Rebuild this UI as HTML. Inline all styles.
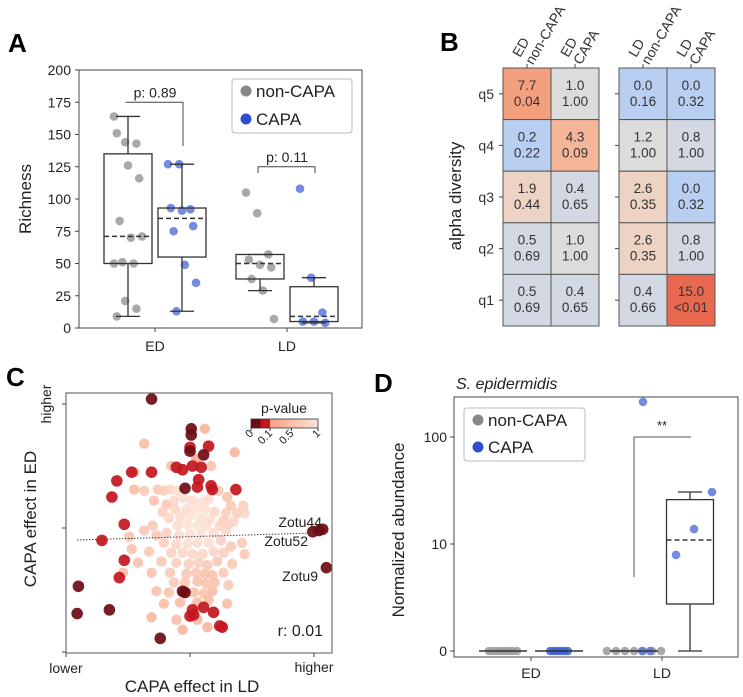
<!DOCTYPE html>
<html><head><meta charset="utf-8"><style>
html,body{margin:0;padding:0;background:#fff}
svg{display:block;font-family:"Liberation Sans",sans-serif}
</style></head><body>
<svg id="fig" width="743" height="697" viewBox="0 0 743 697" xmlns="http://www.w3.org/2000/svg">
<g id="pa"></g>
<g id="pb"></g>
<g id="pc"></g>
<g id="pd"></g>
</svg>
<script>
// ---------- Panel A data ----------
const aGroups = ["ED","LD"];
const aTicks = [0,25,50,75,100,125,150,175,200];
const aBoxNon = [[9,50,71,135,164],[29,38,50,57,57]];
const aBoxCapa = [[13,55,85,93,127],[4,5,9,32,39]];
const aPtsNon = [[164,144,143,151,126,116,83,70,71,51,50,50,21,15,9],[105,89,57,53,49,47,38,29,7]];
const aPtsCapa = [[127,127,92,93,91,79,75,49,35,13],[108,39,12,5,5,4]];
const aPvals = ["p: 0.89","p: 0.11"];
const aBracketY = [175,125];
// ---------- Panel B data ----------
const bRows = ["q5","q4","q3","q2","q1"];
const bCols = [["ED","non-CAPA"],["ED","CAPA"],["LD","non-CAPA"],["LD","CAPA"]];
const bOdds = [["7.7","1.0","0.0","0.0"],["0.2","4.3","1.2","0.8"],["1.9","0.4","2.6","0.0"],["0.5","1.0","2.6","0.8"],["0.5","0.4","0.4","15.0"]];
const bP = [["0.04","1.00","0.16","0.32"],["0.22","0.09","1.00","1.00"],["0.44","0.65","0.35","0.32"],["0.69","1.00","0.35","1.00"],["0.69","0.65","0.66","<0.01"]];
// ---------- Panel C data ----------
const cDark = [[-0.31,1.04,0.01],[0.01,0.80,0.01],[0.01,0.75,0.02],[0.0,0.65,0.06],[0.0,0.62,0.03],[0.15,0.66,0.07],[0.11,0.59,0.01],
[-0.11,0.49,0.06],[-0.06,0.47,0.07],[0.02,0.50,0.06],[0.09,0.49,0.07],[-0.31,0.45,0.06],[-0.47,0.45,0.07],[-0.59,0.38,0.07],
[0.07,0.39,0.06],[0.17,0.34,0.07],[-0.04,0.32,0.04],[0.06,0.33,0.07],[0.18,0.31,0.07],[0.37,0.31,0.07],[-0.63,0.25,0.07],
[-0.53,0.03,0.07],[-0.71,-0.10,0.07],[-0.53,-0.26,0.07],[-0.57,-0.40,0.07],[-0.90,-0.47,0.02],[-0.91,-0.69,0.02],[-0.65,-0.66,0.02],
[-0.06,-0.51,0.03],[0.0,-0.71,0.06],[0.11,-0.64,0.07],[0.19,-0.68,0.07],[0.02,-0.66,0.06],[0.24,-0.79,0.07],[0.26,-0.80,0.07],
[-0.24,-0.89,0.02],[0.99,-0.03,0.01],[1.04,-0.02,0.02],[1.07,-0.01,0.01],[1.10,-0.32,0.02],[-0.04,-0.52,0.04],[0.03,-0.70,0.07]];
const cLight = [[0.12,0.80,0.3],[-0.37,0.68,0.4],[0.36,0.61,0.3],[-0.15,0.50,0.4],[-0.45,0.45,0.3],[0.05,0.56,0.2],[0.17,0.50,0.5],
[-0.45,0.31,0.4],[-0.37,0.30,0.6],[-0.26,0.31,0.6],[-0.21,0.30,0.7],[-0.16,0.31,0.8],[-0.10,0.30,0.9],[0.30,0.25,0.5],[0.23,0.30,0.6],
[-0.29,0.22,0.5],[-0.19,0.19,0.6],[-0.13,0.22,0.8],[-0.05,0.24,0.9],[0.02,0.22,0.9],[0.10,0.21,0.95],[0.15,0.23,0.9],[0.33,0.18,0.6],[0.43,0.18,0.7],
[-0.22,0.13,0.7],[-0.12,0.15,0.8],[-0.03,0.15,0.9],[0.05,0.16,0.95],[0.12,0.15,0.95],[0.20,0.13,0.8],[0.29,0.12,0.7],[0.38,0.12,0.7],[0.44,0.12,0.8],
[-0.17,0.08,0.8],[-0.08,0.09,0.9],[0.0,0.10,0.95],[0.08,0.08,0.98],[0.16,0.07,0.9],[0.27,0.06,0.7],[0.35,0.05,0.8],
[-0.30,0.02,0.6],[-0.10,0.02,0.9],[-0.02,0.03,0.95],[0.06,0.02,0.98],[0.13,0.02,0.95],[0.24,0.02,0.8],[0.31,0.03,0.8],
[-0.49,-0.07,0.5],[-0.37,-0.02,0.6],[-0.27,-0.06,0.6],[-0.19,-0.04,0.7],[-0.09,-0.06,0.9],[0.0,-0.05,0.95],[0.09,-0.05,0.98],[0.19,-0.04,0.9],[0.29,-0.02,0.8],
[-0.47,-0.17,0.5],[-0.21,-0.12,0.7],[-0.11,-0.13,0.8],[-0.02,-0.13,0.9],[0.06,-0.12,0.9],[0.15,-0.12,0.9],[0.25,-0.10,0.7],[0.33,-0.15,0.6],[0.42,-0.12,0.6],
[-0.33,-0.19,0.6],[-0.15,-0.20,0.7],[-0.06,-0.20,0.8],[0.02,-0.21,0.8],[0.10,-0.21,0.8],[0.19,-0.19,0.8],[0.27,-0.20,0.7],[0.44,-0.21,0.6],
[-0.42,-0.28,0.5],[-0.23,-0.27,0.6],[-0.11,-0.28,0.7],[-0.01,-0.29,0.7],[0.07,-0.28,0.7],[0.14,-0.30,0.6],[0.22,-0.27,0.6],[0.34,-0.29,0.6],
[-0.54,-0.36,0.4],[-0.31,-0.36,0.5],[-0.16,-0.36,0.6],[-0.03,-0.37,0.6],[0.05,-0.36,0.6],[0.12,-0.37,0.5],[0.18,-0.38,0.5],[0.27,-0.36,0.6],
[-0.13,-0.44,0.6],[-0.04,-0.44,0.6],[0.06,-0.43,0.5],[0.13,-0.45,0.5],[0.20,-0.44,0.5],[0.31,-0.46,0.6],
[-0.27,-0.51,0.5],[-0.17,-0.52,0.5],[0.03,-0.52,0.5],[0.11,-0.53,0.5],[0.18,-0.51,0.4],
[-0.21,-0.61,0.4],[-0.08,-0.60,0.4],[0.06,-0.60,0.4],[0.15,-0.58,0.4],[0.30,-0.61,0.4],
[-0.31,-0.72,0.3],[-0.11,-0.74,0.4],[0.06,-0.74,0.3],[-0.06,-0.82,0.3],[0.14,-0.80,0.3]];
const cTickLabels = ["0","0.1","0.5","1"];
const cTickVals = [0,0.1,0.5,1];
// ---------- Panel D data ----------
const dGroups = ["ED","LD"];
const dTicks = [0,10,100];
const dTickLabels = ["0","10","100"];
const dPtsNon = [[0,0,0,0,0,0,0,0],[0,0,0,0,0,0,0]];
const dPtsCapa = [[0,0,0,0,0,0],[213,30.6,13.8,7.9,0,0]];
const dBoxCapaLD = [0,2.75,10.9,26,30.6];

const NS="http://www.w3.org/2000/svg";
function mk(parent,tag,attrs,text){const e=document.createElementNS(NS,tag);for(const k in attrs)e.setAttribute(k,attrs[k]);if(text!==undefined)e.textContent=text;parent.appendChild(e);return e;}
const GREY="#9a9a9a", BLUE="#5b78dc";

// ================= PANEL A =================
(function(){
const g=document.getElementById('pa');
const yA=v=>328-v*(258/200);
const xG=[155,287], off=27;
let t=mk(g,'text',{x:8,y:52,'font-size':26,'font-weight':'bold'},'A');


let r=mk(g,'rect',{x:79,y:70,width:283,height:258,fill:'none',stroke:'#444','stroke-width':1});


aTicks.forEach(v=>{
 mk(g,'line',{x1:75,x2:79,y1:yA(v),y2:yA(v),stroke:'#444'});
 const tl=mk(g,'text',{x:71,y:yA(v)+5,'font-size':14,'text-anchor':'end',fill:'#222'},v);
 
 
});
aGroups.forEach((n,i)=>{
 mk(g,'line',{x1:xG[i],x2:xG[i],y1:328,y2:332,stroke:'#444'});
 const tl=mk(g,'text',{x:xG[i],y:351,'font-size':14,'text-anchor':'middle',fill:'#222'},n);
 
 
});
const yl=mk(g,'text',{x:0,y:0,'font-size':17,'text-anchor':'middle',fill:'#222',transform:'translate(31,199) rotate(-90)'},'Richness');


function box(b,cx,name){
 const gb=mk(g,'g',{});
 
 
 const w=24;
 mk(gb,'line',{x1:cx,x2:cx,y1:yA(b[0]),y2:yA(b[1]),stroke:'#333','stroke-width':1.3});
 mk(gb,'line',{x1:cx,x2:cx,y1:yA(b[3]),y2:yA(b[4]),stroke:'#333','stroke-width':1.3});
 mk(gb,'line',{x1:cx-12,x2:cx+12,y1:yA(b[0]),y2:yA(b[0]),stroke:'#333','stroke-width':1.3});
 mk(gb,'line',{x1:cx-12,x2:cx+12,y1:yA(b[4]),y2:yA(b[4]),stroke:'#333','stroke-width':1.3});
 mk(gb,'rect',{x:cx-w,y:yA(b[3]),width:2*w,height:yA(b[1])-yA(b[3]),fill:'none',stroke:'#333','stroke-width':1.3});
 mk(gb,'line',{x1:cx-w,x2:cx+w,y1:yA(b[2]),y2:yA(b[2]),stroke:'#333','stroke-width':1.5,'stroke-dasharray':'5,3'});
}
function pts(arr,cx,col,name){
 arr.forEach((v,k)=>{
  const jx=((k*37)%11-5)*2.8;
  const c=mk(g,'circle',{cx:cx+jx,cy:yA(v),r:4.3,fill:col,'fill-opacity':0.85});
  
  
 });
}
aGroups.forEach((n,i)=>{
 pts(aPtsNon[i],xG[i]-off,GREY,'point-non-capa');
 pts(aPtsCapa[i],xG[i]+off,BLUE,'point-capa');
 box(aBoxNon[i],xG[i]-off,'box-non-capa-'+n.toLowerCase());
 box(aBoxCapa[i],xG[i]+off,'box-capa-'+n.toLowerCase());
 const x1=xG[i]-off-2,x2=xG[i]+off+1,yb=yA(aBracketY[i]);
 const br=mk(g,'path',{d:'',fill:'none',stroke:'#444','stroke-width':1});
 if(i===0) br.setAttribute('d',`M${x1},102 L${x1},${yb} L${x2},${yb} L${x2},146`);
 else br.setAttribute('d',`M${x1},173 L${x1},${yb} L${x2},${yb} L${x2},173`);
 
 
 const pt=mk(g,'text',{x:xG[i],y:yb-5,'font-size':14,'text-anchor':'middle',fill:'#222'},aPvals[i]);
 
 
});
const lg=mk(g,'g',{});


mk(lg,'rect',{x:232,y:79,width:120,height:54,rx:3,fill:'#fff',stroke:'#bbb'});
mk(lg,'circle',{cx:246,cy:91,r:5.5,fill:'#888'});
mk(lg,'text',{x:256,y:97,'font-size':17,fill:'#222'},'non-CAPA');
mk(lg,'circle',{cx:246,cy:119,r:5.5,fill:'#2f4fd0'});
mk(lg,'text',{x:256,y:125,'font-size':17,fill:'#222'},'CAPA');
})();

// ================= PANEL B =================
(function(){
const g=document.getElementById('pb');
let t=mk(g,'text',{x:440,y:51,'font-size':26,'font-weight':'bold'},'B');


const colX=[503,551,619,667], cw=48, y0=68, ch=51.6;
function color(o,p){
 const ov=parseFloat(o), pv=p.startsWith('<')?0.005:parseFloat(p);
 if(ov>=10) return '#e8694f';
 if(ov>=6) return '#f4a07f';
 if(ov>=3) return '#f5b598';
 if(ov>=1.5) return '#ecd3c4';
 if(ov>=0.9) return '#dcdcdc';
 if(ov<0.1||ov<0.3&&pv<0.3) return '#b9cff2';
 return '#d3d9e3';
}
bRows.forEach((rn,i)=>{
 const cy=y0+ch*i+ch/2;
 mk(g,'line',{x1:499,x2:503,y1:cy,y2:cy,stroke:'#444'});
 mk(g,'line',{x1:615,x2:619,y1:cy,y2:cy,stroke:'#444'});
 const rl=mk(g,'text',{x:494,y:cy+5,'font-size':14,'text-anchor':'end',fill:'#333'},rn);
 
 
 colX.forEach((x,j)=>{
  const cell=mk(g,'g',{});
  
  
  mk(cell,'rect',{x:x,y:y0+ch*i,width:cw,height:ch,fill:color(bOdds[i][j],bP[i][j]),stroke:'#555','stroke-width':1});
  mk(cell,'text',{x:x+cw/2,y:cy-4,'font-size':13.5,'text-anchor':'middle',fill:'#333'},bOdds[i][j]);
  mk(cell,'text',{x:x+cw/2,y:cy+12,'font-size':13.5,'text-anchor':'middle',fill:'#333'},bP[i][j]);
 });
});
colX.forEach((x,j)=>{
 const cx=x+cw/2;
 mk(g,'line',{x1:cx,x2:cx,y1:64,y2:68,stroke:'#444'});
 const cl=mk(g,'g',{transform:`translate(${cx},62) rotate(-60)`});
 
 
 mk(cl,'text',{x:0,y:-8,'font-size':14,fill:'#333'},bCols[j][0]);
 mk(cl,'text',{x:0,y:7,'font-size':14,fill:'#333'},bCols[j][1]);
});
const yl=mk(g,'text',{x:0,y:0,'font-size':17,'text-anchor':'middle',fill:'#222',transform:'translate(461,196) rotate(-90)'},'alpha diversity');


})();

// ================= PANEL C =================
(function(){
const g=document.getElementById('pc');
const X=v=>190+v*124, Y=v=>528-v*124;
let t=mk(g,'text',{x:6,y:386,'font-size':26,'font-weight':'bold'},'C');


function pcol(p){
 if(p<0.05) return '#6e0b14';
 if(p<0.1) return '#c3161e';
 const f=(p-0.1)/0.9;
 const a=[246,163,133], b=[252,226,214];
 return `rgb(${a.map((c,i)=>Math.round(c+(b[i]-c)*f)).join(',')})`;
}
const clip=mk(g,'clipPath',{id:'cclip'});
mk(clip,'rect',{x:66,y:393,width:266,height:260});
const pg=mk(g,'g',{'clip-path':'url(#cclip)'});
cLight.forEach(d=>{
 const c=mk(pg,'circle',{cx:X(d[0]),cy:Y(d[1]),r:5.2,fill:pcol(d[2]),'fill-opacity':0.85});
 
 
});
const dl=mk(g,'line',{x1:77,y1:540,x2:314,y2:533,stroke:'#444','stroke-width':1,'stroke-dasharray':'1.5,1.5'});


cDark.forEach(d=>{
 const c=mk(pg,'circle',{cx:X(d[0]),cy:Y(d[1]),r:5.8,fill:pcol(d[2]),'fill-opacity':0.92});
 
 
});
let r=mk(g,'rect',{x:66,y:393,width:266,height:260,fill:'none',stroke:'#555'});


[-1,0,1].forEach(v=>{
 mk(g,'line',{x1:X(v),x2:X(v),y1:653,y2:657,stroke:'#444'});
 mk(g,'line',{x1:62,x2:66,y1:Y(v),y2:Y(v),stroke:'#444'});
});
[['lower',66,673],['higher',314,672]].forEach(a=>{
 const e=mk(g,'text',{x:a[1],y:a[2],'font-size':14,'text-anchor':'middle',fill:'#222'},a[0]);
 
 
});
let e=mk(g,'text',{x:0,y:0,'font-size':14,'text-anchor':'middle',fill:'#222',transform:'translate(51,404) rotate(-90)'},'higher');


e=mk(g,'text',{x:192,y:692,'font-size':17,'text-anchor':'middle',fill:'#222'},'CAPA effect in LD');


e=mk(g,'text',{x:0,y:0,'font-size':17,'text-anchor':'middle',fill:'#222',transform:'translate(36,519) rotate(-90)'},'CAPA effect in ED');


[['Zotu44',322,527],['Zotu52',308,546],['Zotu9',318,581]].forEach(a=>{
 const z=mk(g,'text',{x:a[1],y:a[2],'font-size':14,'text-anchor':'end',fill:'#222'},a[0]);
 
 
});
e=mk(g,'text',{x:323,y:636,'font-size':16,'text-anchor':'end',fill:'#222'},'r: 0.01');


const cb=mk(g,'g',{});


const CB=p=>p<=0.1?251+p*190:270+(p-0.1)/0.9*48;
const grad=mk(g,'linearGradient',{id:'cbg',x1:0,x2:1,y1:0,y2:0});
mk(grad,'stop',{offset:0,'stop-color':pcol(0.1)});
mk(grad,'stop',{offset:1,'stop-color':pcol(1)});
mk(cb,'rect',{x:251,y:419,width:9.5,height:9,fill:pcol(0.01)});
mk(cb,'rect',{x:260.5,y:419,width:9.5,height:9,fill:pcol(0.07)});
mk(cb,'rect',{x:270,y:419,width:48,height:9,fill:'url(#cbg)'});
mk(cb,'rect',{x:251,y:419,width:67,height:9,fill:'none',stroke:'#333','stroke-width':0.8});
mk(cb,'text',{x:284,y:413,'font-size':14,'text-anchor':'middle',fill:'#222'},'p-value');
cTickVals.forEach((v,i)=>{
 mk(cb,'line',{x1:CB(v),x2:CB(v),y1:428,y2:431,stroke:'#333'});
 mk(cb,'text',{x:0,y:0,'font-size':11,'text-anchor':'end',fill:'#222',transform:`translate(${CB(v)+3},434) rotate(-45)`},cTickLabels[i]);
});
})();

// ================= PANEL D =================
(function(){
const g=document.getElementById('pd');
const Y=v=>v<1?651-107*v:651-107*Math.log10(v);
const xG=[531,662], off=28;
let t=mk(g,'text',{x:374,y:392,'font-size':26,'font-weight':'bold'},'D');


t=mk(g,'text',{x:456,y:389,'font-size':16,'font-style':'italic',fill:'#222'},'S. epidermidis');


let r=mk(g,'rect',{x:454,y:397,width:284,height:260,fill:'none',stroke:'#444'});


dTicks.forEach((v,i)=>{
 mk(g,'line',{x1:450,x2:454,y1:Y(v),y2:Y(v),stroke:'#444'});
 const tl=mk(g,'text',{x:447,y:Y(v)+5,'font-size':14,'text-anchor':'end',fill:'#222'},dTickLabels[i]);
 
 
});
dGroups.forEach((n,i)=>{
 mk(g,'line',{x1:xG[i],x2:xG[i],y1:657,y2:661,stroke:'#444'});
 const tl=mk(g,'text',{x:xG[i],y:678,'font-size':14,'text-anchor':'middle',fill:'#222'},n);
 
 
});
t=mk(g,'text',{x:0,y:0,'font-size':17,'text-anchor':'middle',fill:'#222',transform:'translate(404,530) rotate(-90)'},'Normalized abundance');


function pts(arr,cx,col,name,spread){
 arr.forEach((v,k)=>{
  const jx=(k-(arr.length-1)/2)*spread;
  const c=mk(g,'circle',{cx:cx+jx,cy:Y(v),r:4.3,fill:col,'fill-opacity':0.85});
  
  
 });
}
pts(dPtsNon[0],xG[0]-off,GREY,'point-non-capa',4);
pts(dPtsCapa[0],xG[0]+off,'#3d5fd8','point-capa',3.5);
pts(dPtsNon[1],xG[1]-off,GREY,'point-non-capa',9);
const ldx=[643-662,712-662,694-662,676-662,642-662,650-662];
dPtsCapa[1].forEach((v,k)=>{
 const c=mk(g,'circle',{cx:xG[1]+ldx[k],cy:Y(v),r:4.3,fill:BLUE,'fill-opacity':0.85});
 
 
});
[[xG[0]-off,24],[xG[0]+off,24],[xG[1]-off,24]].forEach(a=>{
 const l=mk(g,'line',{x1:a[0]-a[1],x2:a[0]+a[1],y1:Y(0),y2:Y(0),stroke:'#333','stroke-width':1.4});
 
 
});
const b=dBoxCapaLD, w=23.5;
const bx=690;
const gb=mk(g,'g',{});


mk(gb,'line',{x1:bx,x2:bx,y1:Y(b[0]),y2:Y(b[1]),stroke:'#333','stroke-width':1.3});
mk(gb,'line',{x1:bx,x2:bx,y1:Y(b[3]),y2:Y(b[4]),stroke:'#333','stroke-width':1.3});
mk(gb,'line',{x1:bx-12,x2:bx+12,y1:Y(b[0]),y2:Y(b[0]),stroke:'#333','stroke-width':1.3});
mk(gb,'line',{x1:bx-12,x2:bx+12,y1:Y(b[4]),y2:Y(b[4]),stroke:'#333','stroke-width':1.3});
mk(gb,'rect',{x:bx-w,y:Y(b[3]),width:2*w,height:Y(b[1])-Y(b[3]),fill:'none',stroke:'#333','stroke-width':1.3});
mk(gb,'line',{x1:bx-w,x2:bx+w,y1:Y(b[2]),y2:Y(b[2]),stroke:'#333','stroke-width':1.5,'stroke-dasharray':'5,3'});
const br=mk(g,'path',{d:`M634,577 L634,${Y(100)} L691,${Y(100)}`,fill:'none',stroke:'#555','stroke-width':1});


t=mk(g,'text',{x:662,y:430,'font-size':13,'text-anchor':'middle',fill:'#222'},'**');


const lg=mk(g,'g',{});


mk(lg,'rect',{x:464,y:408,width:121,height:53,rx:3,fill:'#fff',stroke:'#bbb'});
mk(lg,'circle',{cx:478,cy:420,r:5.5,fill:'#888'});
mk(lg,'text',{x:488,y:426,'font-size':17,fill:'#222'},'non-CAPA');
mk(lg,'circle',{cx:478,cy:447,r:5.5,fill:'#2f4fd0'});
mk(lg,'text',{x:488,y:453,'font-size':17,fill:'#222'},'CAPA');
})();
</script>
</body></html>
